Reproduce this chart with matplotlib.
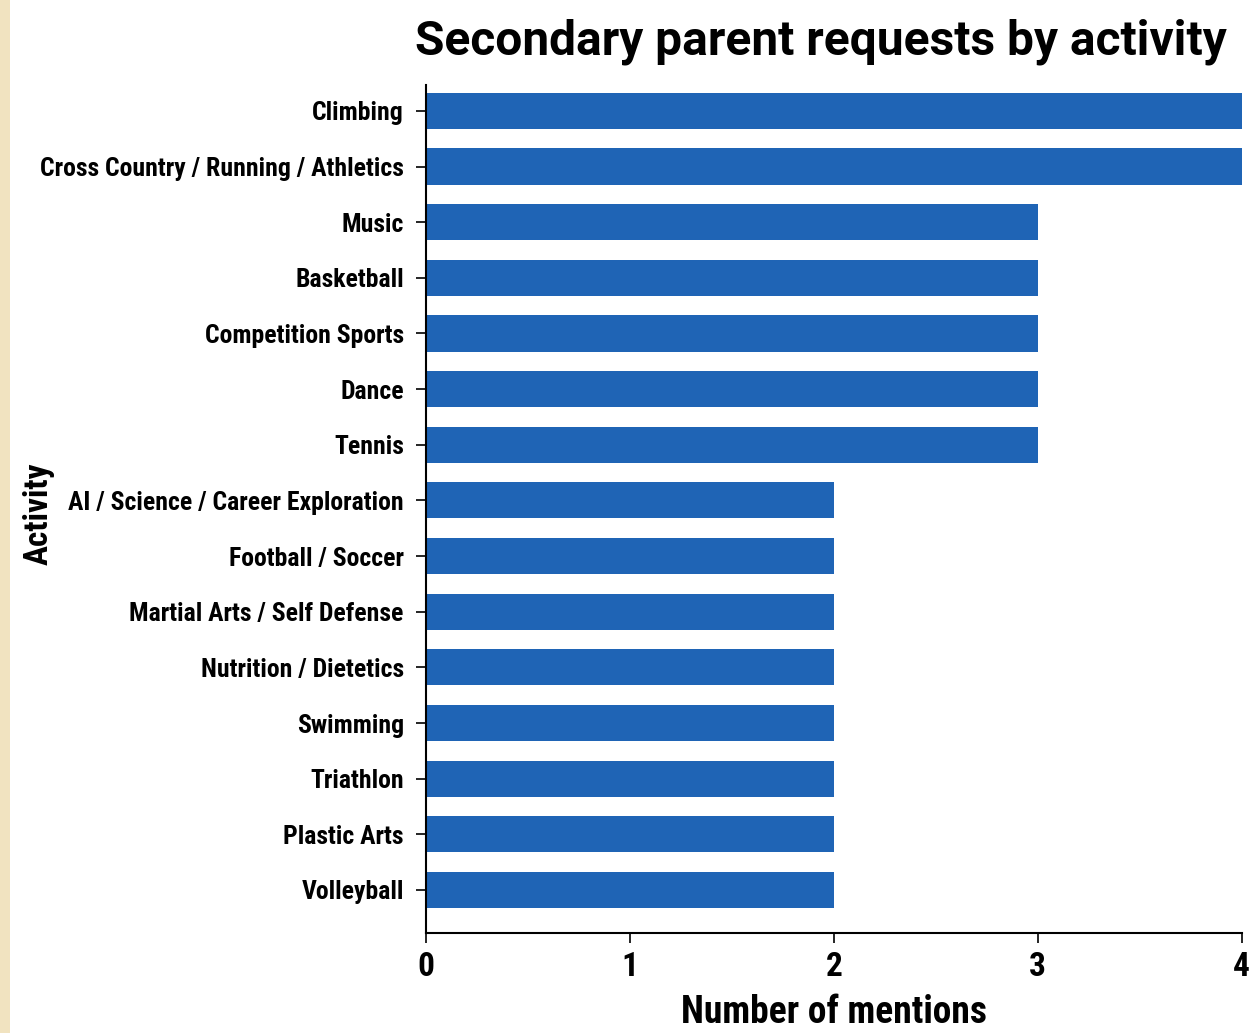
import matplotlib
matplotlib.use('AGG')
import matplotlib.pyplot as plt
from matplotlib.patches import Rectangle

activities = ['Climbing', 'Cross Country / Running / Athletics', 'Music', 'Basketball',
              'Competition Sports', 'Dance', 'Tennis', 'AI / Science / Career Exploration',
              'Football / Soccer', 'Martial Arts / Self Defense', 'Nutrition / Dietetics',
              'Swimming', 'Triathlon', 'Plastic Arts', 'Volleyball']
mentions = [4, 4, 3, 3, 3, 3, 3, 2, 2, 2, 2, 2, 2, 2, 2]
xticks = [0, 1, 2, 3, 4]

narrow = ['Roboto Condensed', 'Barlow Semi Condensed', 'Liberation Sans Narrow', 'DejaVu Sans']
wide = ['Roboto', 'Liberation Sans', 'DejaVu Sans']

fig = plt.figure(figsize=(12.53, 10.33), dpi=100)
fig.patch.set_facecolor('white')
# beige strip on the left edge
fig.patches.append(Rectangle((0, 0), 0.008, 1, transform=fig.transFigure,
                             facecolor='#f1e3c0', edgecolor='none', zorder=0))

ax = fig.add_axes([0.340, 0.097, 0.651, 0.821])
ypos = list(range(len(activities)))
ax.barh(ypos, mentions, height=0.65, color='#1f64b5')
ax.set_ylim(len(activities) - 1 + 0.77, -0.47)
ax.set_xlim(0, 4)
ax.set_xticks(xticks)
ax.set_xticklabels([str(t) for t in xticks], family=narrow, fontweight='bold', fontsize=24)
ax.set_yticks(ypos)
ax.set_yticklabels(activities, family=narrow, fontweight='bold', fontsize=18.5)
ax.tick_params(axis='y', length=7, width=1.2, pad=9)
ax.tick_params(axis='x', length=7, width=1.2, pad=6)

for s in ['top', 'right']:
    ax.spines[s].set_visible(False)
ax.spines['left'].set_linewidth(1.5)
ax.spines['bottom'].set_linewidth(1.5)

ax.set_xlabel('Number of mentions', family=narrow, fontweight='bold', fontsize=27, labelpad=8)
fig.text(0.031, 0.503, 'Activity', rotation=90, ha='center', va='center',
         family=narrow, fontweight='bold', fontsize=24)
fig.text(0.655, 0.947, 'Secondary parent requests by activity', ha='center', va='baseline',
         family=wide, fontweight='bold', fontsize=34.5)

fig.savefig('out.png', dpi=100)
